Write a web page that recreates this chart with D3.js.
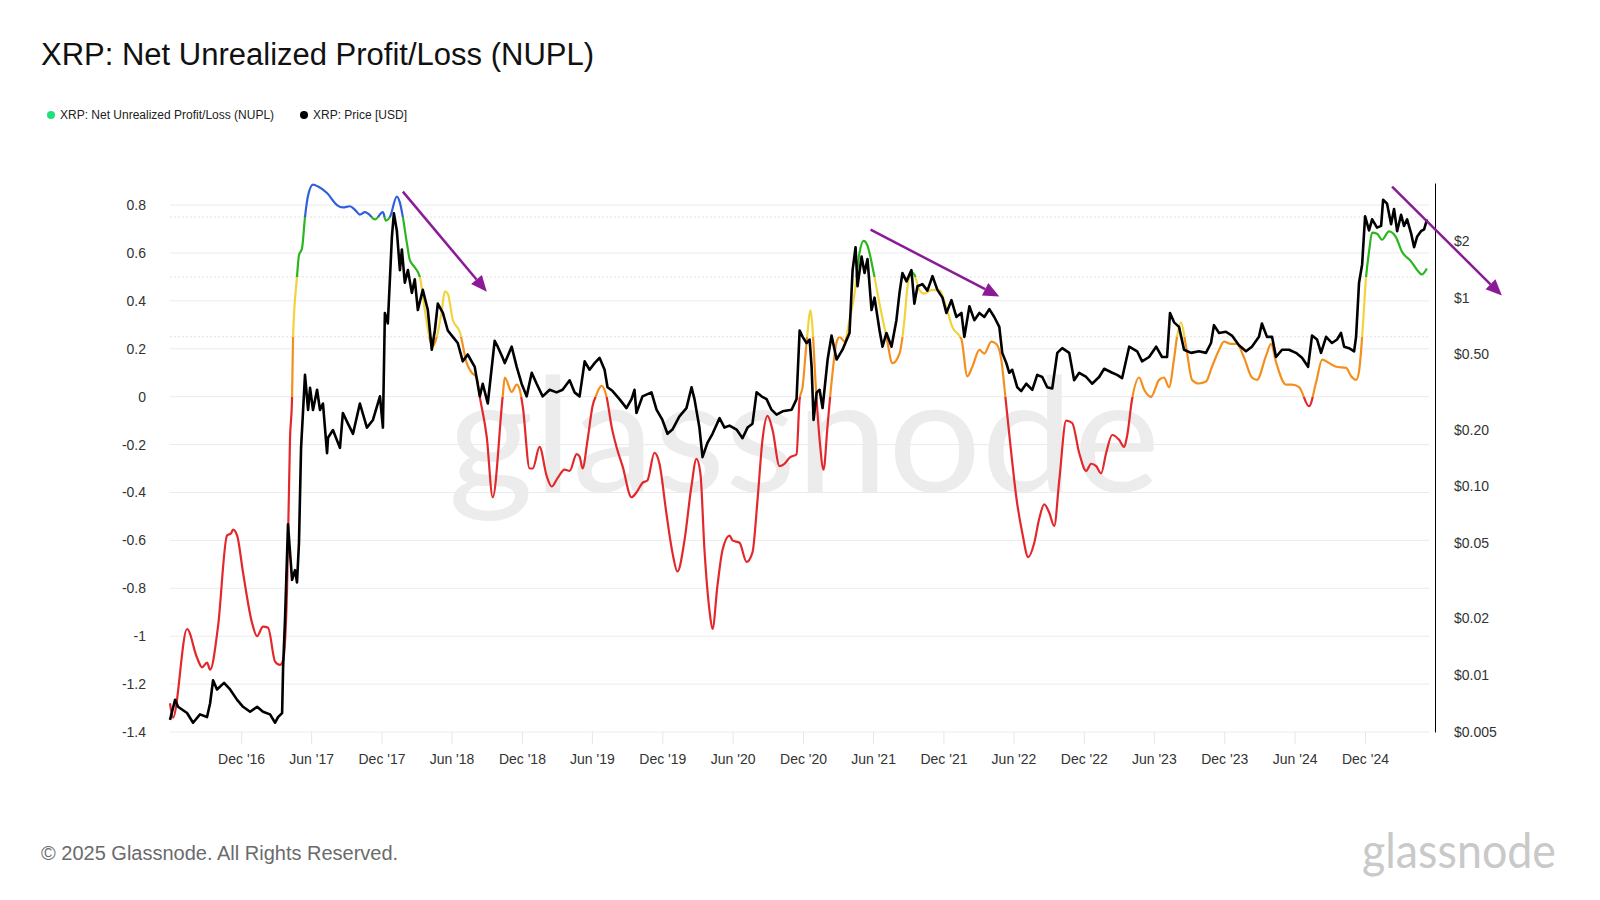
<!DOCTYPE html>
<html>
<head>
<meta charset="utf-8">
<script src="https://cdn.jsdelivr.net/npm/d3@7"></script>
<style>
  body { margin: 0; background: #fff; }
  svg { display: block; font-family: "Liberation Sans", Arial, Helvetica, sans-serif; }
</style>
</head>
<body>
<svg id="chart" width="1600" height="900"></svg>
<script>
// time is stored as fractional years
const nupl = [
  [2016.410,-1.28],[2016.431,-1.34],[2016.531,-0.97],[2016.602,-1.09],[2016.638,-1.13],[2016.673,-1.11],
  [2016.695,-1.14],[2016.751,-0.96],[2016.815,-0.58],[2016.844,-0.57],[2016.858,-0.555],[2016.887,-0.58],
  [2016.929,-0.735],[2016.993,-0.945],[2017.029,-1.0],[2017.071,-0.96],[2017.107,-0.965],[2017.157,-1.106],
  [2017.192,-1.12],[2017.214,-1.10],[2017.242,-0.81],[2017.263,-0.18],[2017.278,0.0],[2017.285,0.25],
  [2017.313,0.5],[2017.327,0.59],[2017.349,0.62],[2017.370,0.75],[2017.392,0.84],[2017.427,0.885],
  [2017.463,0.877],[2017.527,0.85],[2017.598,0.80],[2017.640,0.79],[2017.690,0.795],[2017.726,0.78],
  [2017.761,0.76],[2017.797,0.77],[2017.818,0.765],[2017.868,0.74],[2017.925,0.77],[2017.946,0.735],
  [2017.975,0.75],[2018.024,0.835],[2018.046,0.81],[2018.067,0.75],[2018.096,0.64],[2018.117,0.57],
  [2018.152,0.54],[2018.188,0.50],[2018.224,0.36],[2018.259,0.24],[2018.280,0.21],[2018.309,0.25],
  [2018.345,0.36],[2018.366,0.44],[2018.387,0.43],[2018.423,0.32],[2018.473,0.27],[2018.522,0.14],
  [2018.558,0.10],[2018.593,0.08],[2018.615,0.0],[2018.665,-0.17],[2018.707,-0.42],[2018.778,0.0],
  [2018.793,0.08],[2018.842,0.02],[2018.878,0.05],[2018.899,0.03],[2018.921,-0.04],[2018.970,-0.30],
  [2018.992,-0.30],[2019.041,-0.21],[2019.091,-0.33],[2019.127,-0.375],[2019.169,-0.34],[2019.219,-0.305],
  [2019.255,-0.31],[2019.305,-0.24],[2019.326,-0.25],[2019.347,-0.30],[2019.383,-0.18],[2019.418,-0.04],
  [2019.447,0.01],[2019.482,0.045],[2019.518,0.0],[2019.554,-0.125],[2019.589,-0.21],[2019.632,-0.29],
  [2019.696,-0.42],[2019.731,-0.40],[2019.774,-0.36],[2019.809,-0.35],[2019.859,-0.235],[2019.895,-0.28],
  [2019.945,-0.49],[2019.987,-0.65],[2020.023,-0.73],[2020.073,-0.60],[2020.122,-0.375],[2020.158,-0.26],
  [2020.186,-0.32],[2020.215,-0.64],[2020.250,-0.89],[2020.272,-0.97],[2020.307,-0.79],[2020.343,-0.64],
  [2020.393,-0.58],[2020.414,-0.60],[2020.464,-0.61],[2020.514,-0.69],[2020.556,-0.65],[2020.592,-0.43],
  [2020.627,-0.18],[2020.663,-0.08],[2020.699,-0.14],[2020.748,-0.29],[2020.784,-0.28],[2020.819,-0.255],
  [2020.869,-0.24],[2020.891,-0.01],[2020.912,0.04],[2020.940,0.225],[2020.969,0.36],[2020.983,0.28],
  [2021.004,0.06],[2021.033,-0.18],[2021.061,-0.305],[2021.089,-0.125],[2021.118,0.06],[2021.153,0.225],
  [2021.175,0.25],[2021.211,0.23],[2021.246,0.32],[2021.282,0.43],[2021.317,0.60],[2021.346,0.65],
  [2021.374,0.63],[2021.417,0.52],[2021.459,0.39],[2021.509,0.25],[2021.552,0.14],[2021.602,0.18],
  [2021.637,0.32],[2021.659,0.46],[2021.687,0.52],[2021.708,0.51],[2021.744,0.445],[2021.779,0.43],
  [2021.829,0.445],[2021.886,0.445],[2021.936,0.37],[2021.979,0.29],[2022.043,0.24],[2022.085,0.085],
  [2022.121,0.125],[2022.171,0.195],[2022.206,0.18],[2022.256,0.23],[2022.292,0.22],[2022.327,0.155],
  [2022.356,0.0],[2022.398,-0.235],[2022.434,-0.42],[2022.477,-0.57],[2022.519,-0.67],[2022.562,-0.61],
  [2022.597,-0.51],[2022.633,-0.45],[2022.669,-0.485],[2022.704,-0.54],[2022.740,-0.35],[2022.789,-0.10],
  [2022.832,-0.11],[2022.882,-0.235],[2022.932,-0.31],[2022.967,-0.28],[2023.003,-0.29],[2023.038,-0.32],
  [2023.074,-0.235],[2023.117,-0.16],[2023.166,-0.18],[2023.202,-0.21],[2023.223,-0.165],[2023.259,-0.01],
  [2023.309,0.08],[2023.344,0.03],[2023.394,0.0],[2023.451,0.07],[2023.486,0.08],[2023.522,0.04],
  [2023.557,0.155],[2023.579,0.25],[2023.607,0.31],[2023.643,0.21],[2023.686,0.07],[2023.735,0.055],
  [2023.785,0.063],[2023.828,0.125],[2023.878,0.195],[2023.913,0.23],[2023.963,0.22],[2024.006,0.22],
  [2024.055,0.165],[2024.112,0.08],[2024.148,0.07],[2024.212,0.17],[2024.248,0.22],[2024.283,0.145],
  [2024.354,0.05],[2024.397,0.05],[2024.447,0.04],[2024.518,-0.04],[2024.568,0.06],[2024.611,0.155],
  [2024.661,0.14],[2024.711,0.125],[2024.782,0.12],[2024.817,0.085],[2024.853,0.07],[2024.874,0.11],
  [2024.895,0.25],[2024.923,0.50],[2024.945,0.61],[2024.966,0.685],[2025.001,0.68],[2025.037,0.655],
  [2025.086,0.69],[2025.136,0.665],[2025.179,0.605],[2025.243,0.565],[2025.285,0.53],[2025.320,0.51],
  [2025.356,0.535]
];

const price = [
  [2016.410,0.0058],[2016.446,0.0074],[2016.467,0.0068],[2016.531,0.0063],[2016.574,0.0056],[2016.623,0.0062],
  [2016.673,0.0060],[2016.695,0.0071],[2016.716,0.0094],[2016.744,0.0084],[2016.794,0.0091],[2016.837,0.0084],
  [2016.887,0.0074],[2016.929,0.0068],[2016.979,0.0064],[2017.029,0.0068],[2017.071,0.0064],[2017.121,0.0062],
  [2017.157,0.0056],[2017.178,0.0060],[2017.207,0.0063],[2017.214,0.011],[2017.228,0.020],[2017.249,0.063],
  [2017.263,0.045],[2017.278,0.032],[2017.299,0.036],[2017.313,0.031],[2017.327,0.050],[2017.342,0.16],
  [2017.356,0.25],[2017.370,0.39],[2017.392,0.254],[2017.406,0.333],[2017.427,0.254],[2017.456,0.325],
  [2017.477,0.254],[2017.498,0.275],[2017.527,0.15],[2017.534,0.181],[2017.569,0.199],[2017.619,0.16],
  [2017.640,0.245],[2017.676,0.215],[2017.712,0.19],[2017.761,0.275],[2017.811,0.205],[2017.854,0.225],
  [2017.904,0.30],[2017.925,0.205],[2017.939,0.83],[2017.960,0.73],[2017.989,2.1],[2018.003,2.8],
  [2018.024,2.27],[2018.046,1.4],[2018.060,1.8],[2018.081,1.2],[2018.103,1.4],[2018.131,1.06],
  [2018.152,1.25],[2018.174,0.86],[2018.209,1.1],[2018.245,0.86],[2018.273,0.53],[2018.295,0.67],
  [2018.316,0.93],[2018.352,0.83],[2018.387,0.67],[2018.423,0.62],[2018.458,0.575],[2018.494,0.46],
  [2018.529,0.50],[2018.579,0.43],[2018.615,0.30],[2018.636,0.35],[2018.672,0.275],[2018.721,0.59],
  [2018.743,0.55],[2018.778,0.48],[2018.793,0.45],[2018.842,0.55],[2018.878,0.43],[2018.913,0.35],
  [2018.949,0.30],[2018.985,0.40],[2019.020,0.35],[2019.063,0.30],[2019.113,0.325],[2019.162,0.315],
  [2019.205,0.325],[2019.255,0.365],[2019.290,0.315],[2019.326,0.30],[2019.362,0.46],[2019.397,0.415],
  [2019.433,0.45],[2019.468,0.48],[2019.504,0.415],[2019.525,0.335],[2019.561,0.32],[2019.610,0.29],
  [2019.660,0.26],[2019.696,0.29],[2019.717,0.325],[2019.731,0.245],[2019.774,0.30],[2019.838,0.315],
  [2019.874,0.255],[2019.916,0.225],[2019.952,0.19],[2019.987,0.20],[2020.037,0.235],[2020.087,0.26],
  [2020.123,0.335],[2020.144,0.29],[2020.179,0.205],[2020.201,0.143],[2020.236,0.17],[2020.272,0.19],
  [2020.322,0.23],[2020.357,0.205],[2020.393,0.21],[2020.443,0.20],[2020.485,0.18],[2020.521,0.205],
  [2020.556,0.215],[2020.585,0.315],[2020.620,0.30],[2020.656,0.29],[2020.691,0.255],[2020.727,0.24],
  [2020.770,0.25],[2020.834,0.255],[2020.869,0.29],[2020.891,0.67],[2020.912,0.62],[2020.940,0.575],
  [2020.962,0.60],[2020.976,0.43],[2020.990,0.225],[2021.012,0.315],[2021.033,0.325],[2021.054,0.26],
  [2021.090,0.47],[2021.118,0.63],[2021.154,0.47],[2021.196,0.53],[2021.246,0.65],[2021.268,1.4],
  [2021.289,1.85],[2021.303,1.15],[2021.332,1.65],[2021.353,1.35],[2021.374,1.6],[2021.403,0.86],
  [2021.424,1.0],[2021.460,0.67],[2021.481,0.55],[2021.509,0.65],[2021.545,0.55],[2021.580,0.76],
  [2021.602,1.06],[2021.623,1.35],[2021.652,1.22],[2021.687,1.4],[2021.708,0.93],[2021.730,1.15],
  [2021.765,1.18],[2021.801,1.09],[2021.837,1.3],[2021.872,1.1],[2021.908,1.0],[2021.936,0.83],
  [2021.972,0.97],[2022.007,0.79],[2022.043,0.83],[2022.064,0.62],[2022.100,0.9],[2022.135,0.76],
  [2022.171,0.83],[2022.206,0.79],[2022.242,0.87],[2022.277,0.79],[2022.313,0.70],[2022.334,0.51],
  [2022.363,0.45],[2022.384,0.40],[2022.405,0.415],[2022.441,0.335],[2022.469,0.32],[2022.505,0.35],
  [2022.548,0.325],[2022.583,0.39],[2022.619,0.38],[2022.654,0.335],[2022.690,0.33],[2022.726,0.51],
  [2022.761,0.54],[2022.811,0.51],[2022.846,0.365],[2022.882,0.40],[2022.932,0.38],[2022.974,0.35],
  [2023.024,0.38],[2023.060,0.42],[2023.117,0.40],[2023.152,0.39],[2023.188,0.375],[2023.238,0.55],
  [2023.295,0.52],[2023.330,0.46],[2023.380,0.485],[2023.430,0.55],[2023.472,0.485],[2023.508,0.485],
  [2023.529,0.83],[2023.558,0.74],[2023.593,0.70],[2023.629,0.53],[2023.679,0.51],[2023.735,0.52],
  [2023.785,0.51],[2023.821,0.575],[2023.842,0.715],[2023.878,0.65],[2023.927,0.66],[2023.970,0.63],
  [2024.020,0.56],[2024.070,0.52],[2024.112,0.55],[2024.162,0.62],[2024.183,0.73],[2024.219,0.62],
  [2024.255,0.62],[2024.283,0.485],[2024.326,0.53],[2024.375,0.53],[2024.425,0.51],[2024.468,0.48],
  [2024.511,0.43],[2024.539,0.63],[2024.575,0.60],[2024.603,0.51],[2024.639,0.62],[2024.681,0.575],
  [2024.717,0.60],[2024.745,0.65],[2024.767,0.55],[2024.802,0.54],[2024.838,0.52],[2024.852,0.62],
  [2024.873,1.2],[2024.895,1.5],[2024.916,2.7],[2024.944,2.27],[2024.966,2.6],[2025.001,2.35],
  [2025.030,2.4],[2025.044,3.3],[2025.072,3.15],[2025.101,2.45],[2025.122,2.95],[2025.144,2.25],
  [2025.172,2.75],[2025.193,2.4],[2025.215,2.6],[2025.243,2.2],[2025.265,1.85],[2025.286,2.1],
  [2025.314,2.25],[2025.336,2.3],[2025.357,2.6]
];

const timeDomain = [2016.410, 2025.371];
const xTickDates = ["2016-12-01","2017-06-01","2017-12-01","2018-06-01","2018-12-01","2019-06-01",
  "2019-12-01","2020-06-01","2020-12-01","2021-06-01","2021-12-01","2022-06-01","2022-12-01",
  "2023-06-01","2023-12-01","2024-06-01","2024-12-01"];
const nuplDomain = [-1.4, 0.892];
const nuplTicks = [-1.4, -1.2, -1, -0.8, -0.6, -0.4, -0.2, 0, 0.2, 0.4, 0.6, 0.8];
const priceDomain = [0.005, 4.05];
const priceTicks = [0.005, 0.01, 0.02, 0.05, 0.1, 0.2, 0.5, 1, 2];
const priceTickLabels = ["$0.005", "$0.01", "$0.02", "$0.05", "$0.10", "$0.20", "$0.50", "$1", "$2"];

// NUPL colour zones, top down
const zoneLimits = [0.75, 0.5, 0.25, 0];
const zoneColors = ["#2f5fdc", "#2bb51f", "#f1d33c", "#f48f1e", "#e3282b"];

// trend arrows: [t0, nupl0, t1, nupl1]
const arrows = [
  [2018.067, 0.856, 2018.665, 0.438],
  [2021.396, 0.697, 2022.313, 0.418],
  [2025.108, 0.877, 2025.890, 0.422]
];

function fromYear(t) {
  const y = Math.floor(t);
  const a = Date.UTC(y, 0, 1), b = Date.UTC(y + 1, 0, 1);
  return new Date(a + (t - y) * (b - a));
}

const svg = d3.select("#chart");
const margin = { left: 170, right: 1429, top: 183, bottom: 732 };

const x = d3.scaleUtc().domain(timeDomain.map(fromYear)).range([margin.left, margin.right]);
const yL = d3.scaleLinear().domain(nuplDomain).range([margin.bottom, margin.top]);
const yR = d3.scaleLog().domain(priceDomain).range([margin.bottom, margin.top]);

// watermark
svg.append("text")
  .attr("x", 448).attr("y", 492)
  .attr("textLength", 712).attr("lengthAdjust", "spacingAndGlyphs")
  .attr("font-family", "Lato, 'Open Sans', sans-serif")
  .attr("font-size", 160)
  .attr("fill", "#ececec")
  .text("glassnode");

// title + legend
svg.append("text")
  .attr("x", 41).attr("y", 65)
  .attr("font-size", 31).attr("fill", "#111")
  .text("XRP: Net Unrealized Profit/Loss (NUPL)");

const legend = [
  { label: "XRP: Net Unrealized Profit/Loss (NUPL)", color: "#1fdf78", x: 51 },
  { label: "XRP: Price [USD]", color: "#000", x: 304 }
];
const lg = svg.append("g").selectAll("g").data(legend).join("g")
  .attr("transform", d => `translate(${d.x},115)`);
lg.append("circle").attr("r", 4).attr("fill", d => d.color);
lg.append("text").attr("x", 9).attr("dy", "0.35em")
  .attr("font-size", 12).attr("fill", "#222").text(d => d.label);

// grid
svg.append("g").selectAll("line").data(nuplTicks).join("line")
  .attr("x1", margin.left).attr("x2", margin.right)
  .attr("y1", d => yL(d)).attr("y2", d => yL(d))
  .attr("stroke", "#ebebeb").attr("stroke-width", 1);

// dotted lines at the zone limits
svg.append("g").selectAll("line").data(zoneLimits.filter(v => v > 0)).join("line")
  .attr("x1", margin.left).attr("x2", margin.right)
  .attr("y1", d => yL(d)).attr("y2", d => yL(d))
  .attr("stroke", "#e2e2e2").attr("stroke-width", 1).attr("stroke-dasharray", "2,2");

// x axis
const fmt = d3.utcFormat("%b '%y");
svg.append("g")
  .attr("transform", `translate(0,${margin.bottom})`)
  .call(d3.axisBottom(x).tickValues(xTickDates.map(d => new Date(d + "T00:00:00Z")))
    .tickFormat(fmt).tickSize(12).tickPadding(10))
  .call(g => g.select(".domain").remove())
  .call(g => g.selectAll(".tick line").attr("stroke", "#e6e6e6"))
  .call(g => g.selectAll(".tick text").attr("font-size", 14).attr("fill", "#333")
    .attr("font-family", null));

// left axis
svg.append("g")
  .attr("transform", `translate(${margin.left},0)`)
  .call(d3.axisLeft(yL).tickValues(nuplTicks).tickSize(0).tickPadding(24)
    .tickFormat(d => String(+d.toFixed(1))))
  .call(g => g.select(".domain").remove())
  .call(g => g.selectAll(".tick text").attr("font-size", 14).attr("fill", "#333")
    .attr("font-family", null));

// right axis
svg.append("g")
  .attr("transform", `translate(1435,0)`)
  .call(d3.axisRight(yR).tickValues(priceTicks).tickSize(0).tickSizeOuter(0).tickPadding(19)
    .tickFormat((d, i) => priceTickLabels[i]))
  .call(g => g.select(".domain").attr("stroke", "#000"))
  .call(g => g.selectAll(".tick text").attr("font-size", 14).attr("fill", "#333")
    .attr("font-family", null));

// NUPL gradient by zone
const defs = svg.append("defs");
const grad = defs.append("linearGradient")
  .attr("id", "nuplGrad").attr("gradientUnits", "userSpaceOnUse")
  .attr("x1", 0).attr("x2", 0).attr("y1", margin.top).attr("y2", margin.bottom);
const off = v => (yL(v) - margin.top) / (margin.bottom - margin.top);
const stops = [];
zoneColors.forEach((c, i) => {
  const a = i === 0 ? 0 : off(zoneLimits[i - 1]);
  const b = i === zoneLimits.length ? 1 : off(zoneLimits[i]);
  stops.push([a, c], [b, c]);
});
grad.selectAll("stop").data(stops).join("stop")
  .attr("offset", d => d[0]).attr("stop-color", d => d[1]);

svg.append("path")
  .datum(nupl)
  .attr("fill", "none")
  .attr("stroke", "url(#nuplGrad)")
  .attr("stroke-width", 2.2)
  .attr("stroke-linejoin", "round")
  .attr("d", d3.line().x(d => x(fromYear(d[0]))).y(d => yL(d[1])).curve(d3.curveMonotoneX));

svg.append("path")
  .datum(price)
  .attr("fill", "none")
  .attr("stroke", "#000")
  .attr("stroke-width", 2.6)
  .attr("stroke-linejoin", "round")
  .attr("d", d3.line().x(d => x(fromYear(d[0]))).y(d => yR(d[1])));

// arrows
const purple = "#8b1a97";
arrows.forEach(a => {
  const x0 = x(fromYear(a[0])), y0 = yL(a[1]);
  const x1 = x(fromYear(a[2])), y1 = yL(a[3]);
  const ang = Math.atan2(y1 - y0, x1 - x0);
  const hl = 16, hw = 7;
  const bx = x1 - hl * Math.cos(ang), by = y1 - hl * Math.sin(ang);
  svg.append("line")
    .attr("x1", x0).attr("y1", y0).attr("x2", bx).attr("y2", by)
    .attr("stroke", purple).attr("stroke-width", 2.5);
  const px = -Math.sin(ang) * hw, py = Math.cos(ang) * hw;
  svg.append("path")
    .attr("d", `M${x1},${y1}L${bx + px},${by + py}L${bx - px},${by - py}Z`)
    .attr("fill", purple);
});

// footer
svg.append("text")
  .attr("x", 41).attr("y", 860)
  .attr("font-size", 20).attr("fill", "#6b6b6b")
  .text("© 2025 Glassnode. All Rights Reserved.");
svg.append("text")
  .attr("x", 1362).attr("y", 868)
  .attr("textLength", 194).attr("lengthAdjust", "spacingAndGlyphs")
  .attr("font-family", "Lato, 'Open Sans', sans-serif")
  .attr("font-size", 48).attr("fill", "#c9c9c9")
  .text("glassnode");
</script>
</body>
</html>
